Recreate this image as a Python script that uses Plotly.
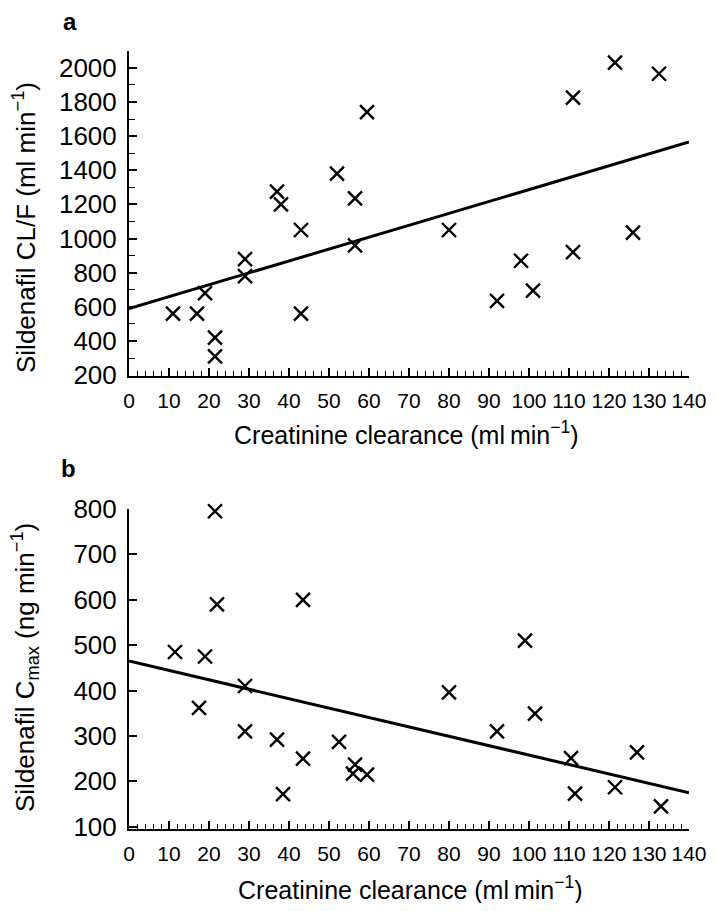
import plotly.graph_objects as go

# ---- Data ----
clcr_a = [11, 17, 19, 21.5, 21.5, 29, 29, 37, 38, 43, 43, 52, 56.5, 56.5, 59.5,
          80, 92, 98, 101, 111, 111, 121.5, 126, 132.5]
clf_a = [560, 560, 680, 420, 310, 880, 780, 1275, 1200, 1050, 560, 1380, 1235, 960, 1740,
         1050, 635, 870, 695, 1825, 920, 2030, 1035, 1965]
fit_x_a = [0, 140]
fit_y_a = [590, 1565]

clcr_b = [11.5, 17.5, 19, 21.5, 22, 29, 29, 37, 38.5, 43.5, 43.5, 52.5, 56, 56.5, 59.5,
          80, 92, 99, 101.5, 110.5, 111.5, 121.5, 127, 133]
cmax_b = [485, 362, 475, 795, 590, 410, 310, 292, 172, 600, 250, 287, 217, 237, 215,
          396, 310, 510, 349, 251, 173, 187, 264, 145]
fit_x_b = [0, 140]
fit_y_b = [465, 175]

x_ticks = list(range(0, 141, 10))

# page body has an 8px default margin
OFF = 8
W, H = 717 - 2 * OFF, 911 - 2 * OFF
FONT = "Liberation Sans, Arial, Helvetica, sans-serif"

def px(x):
    return (x - OFF) / W

def py(y):
    return 1 - (y - OFF) / H

fig = go.Figure()

marker = dict(symbol="x-thin", size=14, color="black", line=dict(color="black", width=2.4))

fig.add_trace(go.Scatter(x=clcr_a, y=clf_a, mode="markers", marker=marker, cliponaxis=False,
                         xaxis="x", yaxis="y", showlegend=False))
fig.add_trace(go.Scatter(x=fit_x_a, y=fit_y_a, mode="lines", line=dict(color="black", width=3),
                         xaxis="x", yaxis="y", showlegend=False))
fig.add_trace(go.Scatter(x=clcr_b, y=cmax_b, mode="markers", marker=marker, cliponaxis=False,
                         xaxis="x2", yaxis="y2", showlegend=False))
fig.add_trace(go.Scatter(x=fit_x_b, y=fit_y_b, mode="lines", line=dict(color="black", width=3),
                         xaxis="x2", yaxis="y2", showlegend=False))

x_dom = [px(129), px(689)]
ya_dom = [py(376), py(50.7)]
yb_dom = [py(829), py(509)]

def xaxis_cfg(anchor):
    return dict(domain=x_dom, anchor=anchor, range=[0, 140], tickvals=x_ticks,
                ticktext=[str(v) for v in x_ticks], tickangle=0, automargin=False,
                ticks="inside", ticklen=8, tickwidth=1.5, tickcolor="black",
                minor=dict(dtick=2, tick0=0, ticks="inside", ticklen=5, tickwidth=1.2, tickcolor="black"),
                showline=True, linecolor="black", linewidth=2, showgrid=False, zeroline=False,
                tickfont=dict(family=FONT, size=21, color="black"), ticklabelstandoff=5)

def yaxis_cfg(anchor, dom, rng, dtick, minor_dtick=None):
    cfg = dict(domain=dom, anchor=anchor, range=rng, dtick=dtick, tick0=0, automargin=False,
               ticks="inside", ticklen=8, tickwidth=1.5, tickcolor="black",
               showline=True, linecolor="black", linewidth=2, showgrid=False, zeroline=False,
               tickfont=dict(family=FONT, size=26, color="black"), ticklabelstandoff=5)
    if minor_dtick:
        cfg["minor"] = dict(dtick=minor_dtick, tick0=0, ticks="inside", ticklen=6,
                            tickwidth=1.2, tickcolor="black")
    return cfg

fig.update_layout(
    width=W, height=H,
    margin=dict(l=0, r=0, t=0, b=0),
    paper_bgcolor="white", plot_bgcolor="white",
    font=dict(family=FONT, color="black"),
    xaxis=xaxis_cfg("y"),
    yaxis=yaxis_cfg("x", ya_dom, [195, 2100], 200, 100),
    xaxis2=xaxis_cfg("y2"),
    yaxis2=yaxis_cfg("x2", yb_dom, [95, 800], 100),
)

xt = "Creatinine clearance (ml\u2009min<sup>\u22121</sup>)"
ann = [
    dict(text="<b>a</b>", x=px(70), y=py(22), size=24),
    dict(text="<b>b</b>", x=px(68), y=py(468), size=24),
    dict(text=xt, x=px(406), y=py(433), size=25),
    dict(text=xt, x=px(410), y=py(888), size=25),
    dict(text="Sildenafil CL/F (ml min<sup>\u22121</sup>)", x=px(25), y=py(228), size=26, angle=-90),
    dict(text="Sildenafil C<sub>max</sub> (ng min<sup>\u22121</sup>)", x=px(25), y=py(668), size=26, angle=-90),
]
for a in ann:
    fig.add_annotation(text=a["text"], x=a["x"], y=a["y"], xref="paper", yref="paper",
                       xanchor="center", yanchor="middle", showarrow=False,
                       textangle=a.get("angle", 0),
                       font=dict(family=FONT, size=a.get("size", 24), color="black"))

fig.write_html("out.html")
